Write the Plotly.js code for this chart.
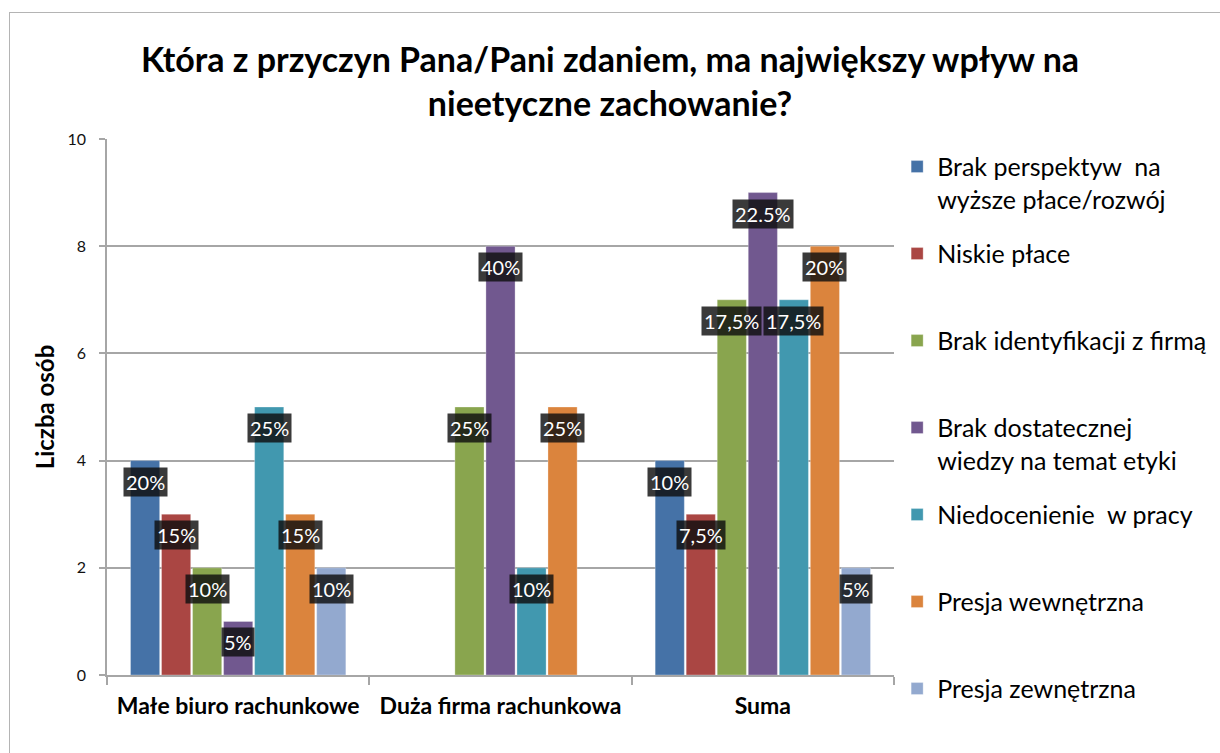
<!DOCTYPE html>
<html>
<head>
<meta charset="utf-8">
<script src="https://cdn.plot.ly/plotly-3.0.1.min.js"></script>
<style>
  body { margin: 0; overflow: hidden; background: #fff; }
  #chart { width: 1220px; height: 753px; }
  #frame { position: absolute; left: 9px; top: 12px; width: 1400px; height: 1000px;
           border: 1.5px solid #b4b4b4; pointer-events: none; }
</style>
</head>
<body>
<div id="chart"></div>
<div id="frame"></div>
<script>
  // categories
  var categories = ["Małe biuro rachunkowe", "Duża firma rachunkowa", "Suma"];

  // series names (legend)
  var seriesNames = [
    "Brak perspektyw  na<br>wyższe płace/rozwój",
    "Niskie płace",
    "Brak identyfikacji z firmą",
    "Brak dostatecznej<br>wiedzy na temat etyki",
    "Niedocenienie  w pracy",
    "Presja wewnętrzna",
    "Presja zewnętrzna"
  ];

  // values per series: [Małe biuro, Duża firma, Suma]
  var brakPerspektyw    = [4, 0, 4];
  var niskiePlace       = [3, 0, 3];
  var brakIdentyfikacji = [2, 5, 7];
  var brakWiedzy        = [1, 8, 9];
  var niedocenienie     = [5, 2, 7];
  var presjaWewn        = [3, 5, 8];
  var presjaZewn        = [2, 0, 2];

  // data labels per series
  var lblPerspektyw = ["20%", null, "10%"];
  var lblNiskie     = ["15%", null, "7,5%"];
  var lblIdentyf    = ["10%", "25%", "17,5%"];
  var lblWiedza     = ["5%", "40%", "22.5%"];
  var lblNiedocen   = ["25%", "10%", "17,5%"];
  var lblWewn       = ["15%", "25%", "20%"];
  var lblZewn       = ["10%", null, "5%"];

  var colors = ["#4572A7", "#AA4643", "#89A54E", "#71588F", "#4198AF", "#DB843D", "#93A9CF"];

  var values = [brakPerspektyw, niskiePlace, brakIdentyfikacji, brakWiedzy, niedocenienie, presjaWewn, presjaZewn];
  var labels = [lblPerspektyw, lblNiskie, lblIdentyf, lblWiedza, lblNiedocen, lblWewn, lblZewn];

  var font = "Lato, 'Open Sans', sans-serif";
  var bargap = 0.172;
  var nSeries = values.length;
  var slot = (1 - bargap) / nSeries;

  var traces = [];
  var annotations = [];
  for (let s = 0; s < nSeries; s++) {
    // pad single-line legend entries to two lines so spacing stays even
    var name = seriesNames[s].indexOf("<br>") >= 0 ? seriesNames[s] : seriesNames[s] + "<br>\u00a0";
    traces.push({
      type: "bar",
      x: categories,
      y: values[s],
      name: name,
      legendgroup: "g" + s,
      marker: { color: colors[s], line: { color: "rgba(255,255,255,0.6)", width: 0.5 } },
      hoverinfo: "y+name"
    });
    for (let c = 0; c < categories.length; c++) {
      if (!labels[s][c]) continue;
      annotations.push({
        x: c + (s - (nSeries - 1) / 2) * slot,
        y: values[s][c],
        xref: "x", yref: "y",
        text: labels[s][c],
        showarrow: false,
        yshift: -21,
        bgcolor: "rgba(15,15,15,0.82)",
        borderpad: 2,
        font: { family: font, size: 20, color: "#ffffff" }
      });
    }
  }

  var layout = {
    width: 1220,
    height: 753,
    paper_bgcolor: "#ffffff",
    plot_bgcolor: "#ffffff",
    margin: { l: 107, r: 326, t: 139, b: 78, autoexpand: false },
    title: {
      text: "Która z przyczyn Pana/Pani zdaniem, ma największy wpływ na<br>nieetyczne zachowanie?",
      font: { family: font, size: 34, color: "#000", weight: "bold" },
      x: 0.5, xanchor: "center",
      y: 0.905, yanchor: "top"
    },
    barmode: "group",
    bargap: bargap,
    bargroupgap: 0.06,
    showlegend: true,
    legend: {
      x: 1.004, xanchor: "left",
      y: 0.991, yanchor: "top",
      maxheight: 720,
      font: { family: font, size: 25, color: "#000" },
      tracegroupgap: 19,
      valign: "top",
      bgcolor: "rgba(0,0,0,0)"
    },
    xaxis: {
      type: "category",
      automargin: false,
      tickangle: 0,
      showline: true, linecolor: "#a6a6a6", linewidth: 1.5,
      ticks: "outside", tickson: "boundaries", ticklen: 8, tickcolor: "#a6a6a6", tickwidth: 1.5,
      ticklabelstandoff: 10,
      tickfont: { family: font, size: 23, color: "#000", weight: "bold" },
      showgrid: false
    },
    yaxis: {
      range: [0, 10], dtick: 2,
      automargin: false,
      showline: true, linecolor: "#a6a6a6", linewidth: 1.5,
      ticks: "outside", ticklen: 6, tickcolor: "#a6a6a6", tickwidth: 1.5,
      ticklabelstandoff: 10,
      tickfont: { family: font, size: 16, color: "#111" },
      showgrid: true, gridcolor: "#a6a6a6", gridwidth: 1.5,
      zeroline: false,
      title: { text: "Liczba osób", font: { family: font, size: 24, color: "#000", weight: "bold" }, standoff: 6 }
    },
    annotations: annotations
  };

  var config = { displayModeBar: false, responsive: false };

  Plotly.newPlot("chart", traces, layout, config);
</script>
</body>
</html>
